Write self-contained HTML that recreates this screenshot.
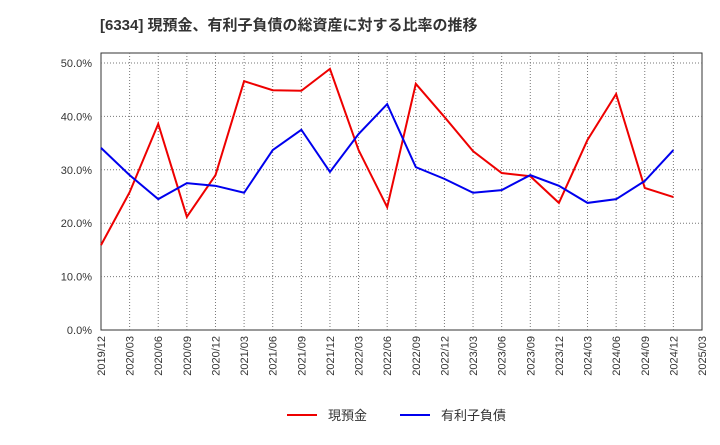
<!DOCTYPE html>
<html><head><meta charset="utf-8"><style>
body{margin:0;background:#fff;width:720px;height:440px;overflow:hidden;font-family:"Liberation Sans","Noto Sans CJK JP",sans-serif}
</style></head><body>
<svg id="chart" width="720" height="440" xmlns="http://www.w3.org/2000/svg">
<text x="100" y="30" font-size="15" font-weight="bold" fill="#333" font-family="Liberation Sans, Noto Sans CJK JP, sans-serif">[6334]  現預金、有利子負債の総資産に対する比率の推移</text>
<rect x="101" y="53" width="601" height="277" fill="#fff" stroke="#333" stroke-width="1"/>
<g id="grid"></g><g id="ticks"></g><g id="series"></g>
<g>
<line x1="287" y1="415" x2="317" y2="415" stroke="#e00" stroke-width="2"/>
<text x="328" y="420" font-size="13" fill="#333">現預金</text>
<line x1="400" y1="415" x2="430" y2="415" stroke="#00e" stroke-width="2"/>
<text x="441" y="420" font-size="13" fill="#333">有利子負債</text>
</g>
</svg>
<script>
const categories=["2019/12","2020/03","2020/06","2020/09","2020/12","2021/03","2021/06","2021/09","2021/12","2022/03","2022/06","2022/09","2022/12","2023/03","2023/06","2023/09","2023/12","2024/03","2024/06","2024/09","2024/12","2025/03"];
const cashValues=[15.9,25.8,38.6,21.2,29.0,46.6,44.9,44.8,48.9,33.7,23.0,46.1,39.9,33.5,29.4,28.8,23.8,35.6,44.2,26.6,24.9];
const debtValues=[34.1,29.0,24.5,27.5,27.0,25.7,33.7,37.5,29.6,36.7,42.3,30.5,28.3,25.7,26.2,29.0,27.0,23.8,24.5,27.9,33.7];
const yTicks=[0,10,20,30,40,50];
const ns="http://www.w3.org/2000/svg";
const X0=101,X1=702,Y0=330,Y50=63;
function xs(i){return X0+i*(X1-X0)/(categories.length-1);}
function ys(v){return Y0-v*(Y0-Y50)/50;}
function mk(t,a,p){const e=document.createElementNS(ns,t);for(const k in a)e.setAttribute(k,a[k]);p.appendChild(e);return e;}
const grid=document.getElementById('grid'),ticks=document.getElementById('ticks'),ser=document.getElementById('series');
yTicks.forEach(v=>{
 const y=ys(v);
 if(v>0){const l=mk('line',{x1:X0,x2:X1,y1:y,y2:y,stroke:'#777','stroke-dasharray':'1,2','stroke-width':1},grid);
 
 }
 const t=mk('text',{x:92,y:y+4,'font-size':11,fill:'#333','text-anchor':'end'},ticks);
 t.textContent=v.toFixed(1)+'%';
 
 
});
categories.forEach((c,i)=>{
 const x=xs(i);
 if(i>0&&i<categories.length-1){const l=mk('line',{x1:x,x2:x,y1:53,y2:330,stroke:'#777','stroke-dasharray':'1,2','stroke-width':1},grid);
 
 }
 const t=mk('text',{x:x+4,y:336,'font-size':11,fill:'#333','text-anchor':'end',transform:`rotate(-90 ${x+4} 336)`},ticks);
 t.textContent=c;
 
 
});
function line(vals,color,name){
 const p=mk('polyline',{points:vals.map((v,i)=>xs(i)+','+ys(v)).join(' '),fill:'none',stroke:color,'stroke-width':2},ser);
 
 
}
line(cashValues,'#e00','cash-line');
line(debtValues,'#00e','debt-line');
</script>
</body></html>
